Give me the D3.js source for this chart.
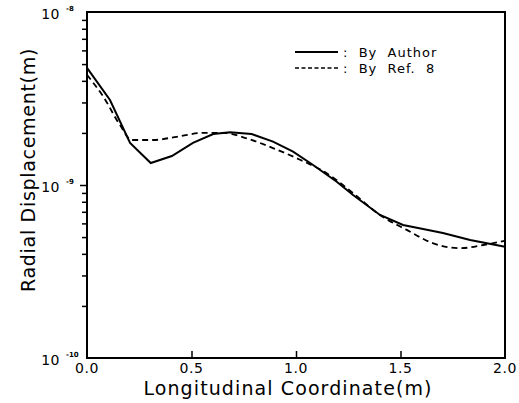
<!DOCTYPE html>
<html>
<head>
<meta charset="utf-8">
<script src="https://cdn.jsdelivr.net/npm/d3@7"></script>
<style>
  body { margin: 0; background: #fff; }
  text { font-family: "DejaVu Sans", sans-serif; fill: #000; }
</style>
</head>
<body>
<div id="chart"></div>
<script>

// values
var authorX = [0.0, 0.11, 0.206, 0.305, 0.406, 0.507, 0.604, 0.684, 0.788, 0.89, 0.986, 1.08, 1.195, 1.273, 1.402, 1.512, 1.608, 1.703, 1.833, 2.0];
var authorY = [4.75e-9, 3.1e-9, 1.75e-9, 1.34e-9, 1.47e-9, 1.75e-9, 1.97e-9, 2.02e-9, 1.97e-9, 1.78e-9, 1.56e-9, 1.31e-9, 1.045e-9, 8.75e-10, 6.71e-10, 5.87e-10, 5.57e-10, 5.28e-10, 4.81e-10, 4.40e-10];

var refX = [0.0, 0.078, 0.158, 0.214, 0.317, 0.429, 0.556, 0.652, 0.764, 0.892, 1.019, 1.147, 1.274, 1.402, 1.53, 1.657, 1.785, 1.896, 2.0];
var refY = [4.33e-9, 3.24e-9, 2.22e-9, 1.82e-9, 1.82e-9, 1.9e-9, 2.0e-9, 2.0e-9, 1.86e-9, 1.63e-9, 1.40e-9, 1.17e-9, 8.95e-10, 6.71e-10, 5.5e-10, 4.6e-10, 4.31e-10, 4.5e-10, 4.76e-10];

var xTicks = [0.0, 0.5, 1.0, 1.5, 2.0];
var xTickLabels = ["0.0", "0.5", "1.0", "1.5", "2.0"];
var yDecades = [1e-8, 1e-9, 1e-10];
var yExponents = ["-8", "-9", "-10"];

var legendLabels = [":  By  Author", ":  By  Ref.  8"];

var W = 519, H = 403;
var margin = { left: 87, right: 14, top: 12, bottom: 45 };

var svg = d3.select("#chart").append("svg")
  .attr("width", W).attr("height", H);

var x = d3.scaleLinear().domain([0, 2]).range([margin.left, W - margin.right]);
var y = d3.scaleLog().domain([1e-10, 1e-8]).range([H - margin.bottom, margin.top]);

// frame
svg.append("rect")
  .attr("x", x(0)).attr("y", y(1e-8))
  .attr("width", x(2) - x(0)).attr("height", y(1e-10) - y(1e-8))
  .attr("fill", "none").attr("stroke", "#000").attr("stroke-width", 2);

// left axis: minor ticks outward, labels drawn by hand below
var minor = [];
[1e-10, 1e-9].forEach(function (d) {
  for (var k = 2; k <= 9; k++) minor.push(d * k);
});
svg.append("g")
  .attr("transform", "translate(" + x(0) + ",0)")
  .call(d3.axisLeft(y).tickValues(minor).tickSize(5).tickFormat(""))
  .call(function (g) { g.select(".domain").remove(); })
  .selectAll("line").attr("stroke-width", 1.5);
svg.append("g")
  .attr("transform", "translate(" + x(0) + ",0)")
  .call(d3.axisLeft(y).tickValues([1e-9]).tickSize(7).tickFormat(""))
  .call(function (g) { g.select(".domain").remove(); })
  .selectAll("line").attr("stroke-width", 1.5);

var ylab = svg.append("g").selectAll("g").data(yDecades).enter().append("g");
ylab.append("text")
  .attr("x", 60).attr("y", function (d) { return y(d) + 7; })
  .attr("text-anchor", "end")
  .attr("font-size", 14)
  .attr("letter-spacing", 0.5)
  .text("10");
ylab.append("text")
  .attr("x", 66).attr("y", function (d) { return y(d) - 1; })
  .attr("font-size", 7).attr("font-weight", "bold")
  .text(function (d, i) { return yExponents[i]; });

// bottom axis: ticks inward
svg.append("g")
  .attr("transform", "translate(0," + y(1e-10) + ")")
  .call(d3.axisTop(x).tickValues([0.5, 1.0, 1.5]).tickSize(7).tickFormat(""))
  .call(function (g) { g.select(".domain").remove(); })
  .selectAll("line").attr("stroke-width", 1.5);

svg.append("g").selectAll("text").data(xTicks).enter().append("text")
  .attr("x", function (d) { return x(d); })
  .attr("y", y(1e-10) + 15)
  .attr("text-anchor", "middle")
  .attr("font-size", 14)
  .attr("letter-spacing", 0.5)
  .text(function (d, i) { return xTickLabels[i]; });

// axis titles
svg.append("text")
  .attr("x", x(1) - 8).attr("y", 395)
  .attr("text-anchor", "middle")
  .attr("font-size", 19)
  .attr("letter-spacing", 1.1)
  .text("Longitudinal  Coordinate(m)");

svg.append("text")
  .attr("transform", "translate(35,170) rotate(-90)")
  .attr("text-anchor", "middle")
  .attr("font-size", 19)
  .attr("letter-spacing", 0.7)
  .text("Radial  Displacement(m)");

// curves
var author = authorX.map(function (d, i) { return [d, authorY[i]]; });
var ref = refX.map(function (d, i) { return [d, refY[i]]; });

var line = d3.line()
  .x(function (d) { return x(d[0]); })
  .y(function (d) { return y(d[1]); });

svg.append("path")
  .datum(author)
  .attr("d", line)
  .attr("fill", "none").attr("stroke", "#000").attr("stroke-width", 2);

svg.append("path")
  .datum(ref)
  .attr("d", line.curve(d3.curveMonotoneX))
  .attr("fill", "none").attr("stroke", "#000").attr("stroke-width", 1.8)
  .attr("stroke-dasharray", "6,4");

// legend
var leg = svg.append("g").selectAll("g").data(legendLabels).enter().append("g")
  .attr("transform", function (d, i) { return "translate(0," + (52 + i * 16) + ")"; });
leg.append("line")
  .attr("x1", 295).attr("x2", 338)
  .attr("stroke", "#000").attr("stroke-width", function (d, i) { return i ? 1.6 : 2; })
  .attr("stroke-dasharray", function (d, i) { return i ? "4,2.5" : null; });
leg.append("text")
  .attr("x", 343).attr("y", 5)
  .attr("font-size", 13)
  .attr("letter-spacing", 1)
  .style("white-space", "pre")
  .text(function (d) { return d; });

</script>
</body>
</html>
